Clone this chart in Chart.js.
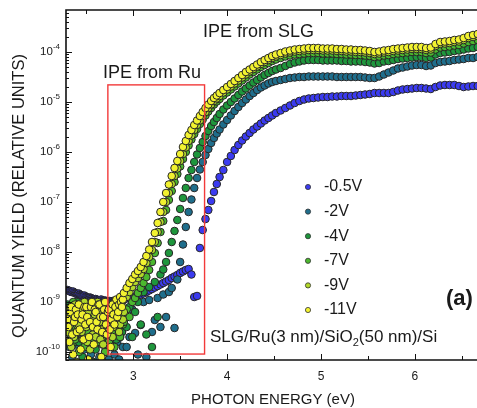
<!DOCTYPE html>
<html>
<head>
<meta charset="utf-8">
<script src="https://cdn.jsdelivr.net/npm/chart.js@4.4.0/dist/chart.umd.min.js"></script>
<style>
    html, body { margin: 0; padding: 0; background: #fff; overflow: hidden; }
    #wrap { width: 477px; height: 408px; overflow: hidden; }
    canvas { display: block; }
</style>
</head>
<body>
<div id="wrap"><canvas id="qyChart" width="485" height="408"></canvas></div>
<script>
// photon energy grid (eV), shared by every bias
const energy = [
    2.30, 2.31, 2.32, 2.33, 2.34, 2.35, 2.36, 2.37, 2.38, 2.39,
    2.40, 2.41, 2.42, 2.43, 2.44, 2.45, 2.46, 2.47, 2.48, 2.49,
    2.50, 2.51, 2.52, 2.53, 2.54, 2.55, 2.56, 2.57, 2.58, 2.59,
    2.60, 2.61, 2.62, 2.63, 2.64, 2.65, 2.66, 2.67, 2.68, 2.69,
    2.70, 2.71, 2.72, 2.73, 2.74, 2.75, 2.76, 2.77, 2.78, 2.79,
    2.80, 2.81, 2.82, 2.83, 2.84, 2.85, 2.86, 2.87, 2.88, 2.89,
    2.90,
    2.93, 2.96, 2.99, 3.02, 3.05, 3.08, 3.11, 3.14, 3.17, 3.20,
    3.23, 3.26, 3.29, 3.32, 3.35, 3.38, 3.41, 3.44, 3.47, 3.50,
    3.53, 3.56, 3.59, 3.62, 3.65, 3.68, 3.71, 3.74, 3.77, 3.80,
    3.83, 3.86, 3.89, 3.92,
    3.96, 4.00, 4.04, 4.08, 4.12, 4.16, 4.20, 4.24, 4.28, 4.32,
    4.36, 4.40, 4.44, 4.48, 4.52,
    4.57, 4.62, 4.67, 4.72, 4.77, 4.82, 4.87, 4.92, 4.97, 5.02,
    5.07, 5.12, 5.17, 5.22, 5.27, 5.32, 5.37, 5.42, 5.47, 5.52,
    5.57, 5.62, 5.67, 5.72, 5.77, 5.82, 5.87, 5.92, 5.97, 6.02,
    6.07, 6.12, 6.17, 6.22, 6.27, 6.32, 6.37, 6.42, 6.47, 6.52,
    6.57, 6.62, 6.67
];

// log10 of the quantum yield, one list per bias
const logQY_m05V = [
    -8.76, -8.77, -8.78, -8.79, -8.80, -8.80, -8.79, -8.81, -8.82, -8.83,
    -8.84, -8.84, -8.83, -8.85, -8.86, -8.87, -8.88, -8.88, -8.87, -8.89,
    -8.90, -8.91, -8.92, -8.92, -8.91, -8.92, -8.93, -8.94, -8.95, -8.95,
    -8.94, -8.95, -8.96, -8.97, -8.97, -8.96, -8.95, -8.97, -8.98, -8.98,
    -8.97, -8.98, -8.99, -9.00, -8.99, -8.98, -9.00, -8.99, -8.98, -8.99,
    -8.99, -8.98, -8.97, -8.97, -8.98, -8.97, -8.96, -8.96, -8.97, -8.96,
    -8.95,
    -8.93, -8.92, -8.90, -8.89, -8.87, -8.85, -8.83, -8.80, -8.77, -8.74,
    -8.71, -8.68, -8.65, -8.62, -8.59, -8.56, -8.52, -8.49, -8.46, -8.42,
    -8.39, -8.36, -8.34, -8.45, -8.90, -8.88, -7.92, -7.56, -7.34, -7.16,
    -6.98, -6.80, -6.64, -6.50,
    -6.36, -6.20, -6.08, -5.96, -5.86, -5.77, -5.69, -5.62, -5.55, -5.49,
    -5.43, -5.37, -5.32, -5.27, -5.22,
    -5.17, -5.12, -5.07, -5.02, -4.98, -4.95, -4.93, -4.92, -4.91, -4.90,
    -4.90, -4.89, -4.89, -4.88, -4.88, -4.88, -4.87, -4.86, -4.85, -4.84,
    -4.82, -4.82, -4.82, -4.82, -4.80, -4.77, -4.75, -4.74, -4.73, -4.72,
    -4.72, -4.73, -4.74, -4.70, -4.67, -4.66, -4.66, -4.66, -4.68, -4.70,
    -4.69, -4.68, -4.68
];
const logQY_m2V = [
    -9.20, -9.55, -9.90, -9.40, -9.35, -10.10, -9.75, -9.60, -9.30, -9.85,
    -10.25, -9.50, -9.70, -9.45, -10.00, -9.65, -9.55, -9.30, -9.95, -9.40,
    -9.30, -10.15, -9.80, -9.65, -9.40, -10.05, -9.60, -9.50, -9.25, -9.90,
    -10.20, -9.55, -9.45, -9.70, -10.10, -9.60, -9.35, -9.85, -9.70, -9.45,
    -10.00, -9.55, -9.75, -9.30, -10.15, -9.65, -9.50, -9.90, -9.40, -9.75,
    -10.05, -9.55, -9.35, -9.80, -9.50, -10.15, -9.70, -9.40, -9.60, -9.90,
    -9.40,
    -9.90, -9.70, -9.15, -9.62, -10.05, -9.46, -9.00, -10.10, -8.96, -9.60,
    -9.36, -8.92, -9.50, -8.85, -9.30, -8.80, -8.72, -9.52, -8.55, -8.20,
    -7.85, -7.50, -7.20, -6.95, -6.72, -6.52, -6.35, -6.20, -6.06, -5.94,
    -5.82, -5.72, -5.63, -5.55,
    -5.45, -5.36, -5.27, -5.18, -5.10, -5.02, -4.95, -4.88, -4.82, -4.76,
    -4.71, -4.67, -4.63, -4.60, -4.58,
    -4.56, -4.54, -4.52, -4.51, -4.50, -4.50, -4.49, -4.49, -4.49, -4.49,
    -4.49, -4.49, -4.50, -4.50, -4.50, -4.50, -4.50, -4.50, -4.51, -4.52,
    -4.52, -4.49, -4.45, -4.41, -4.37, -4.33, -4.31, -4.29, -4.27, -4.26,
    -4.26, -4.28, -4.27, -4.22, -4.20, -4.19, -4.18, -4.16, -4.15, -4.14,
    -4.12, -4.12, -4.10
];
const logQY_m4V = [
    -9.05, -9.25, -9.40, -9.60, -9.70, -9.30, -9.15, -9.45, -9.50, -9.80,
    -9.00, -9.20, -9.80, -9.55, -9.25, -9.35, -10.10, -9.65, -9.35, -9.10,
    -9.15, -9.50, -9.75, -9.20, -9.25, -9.05, -9.50, -9.85, -9.00, -9.30,
    -9.95, -9.45, -9.30, -9.60, -9.75, -9.15, -9.05, -9.35, -9.40, -9.70,
    -9.60, -9.25, -9.90, -9.55, -9.30, -9.10, -9.05, -9.45, -9.55, -9.20,
    -9.20, -9.65, -9.75, -9.35, -9.45, -9.05, -9.15, -9.50, -9.60, -9.25,
    -9.30,
    -9.50, -9.10, -9.70, -9.20, -9.00, -9.45, -8.80, -9.65, -8.70, -9.90,
    -8.60, -9.30, -8.45, -8.35, -8.20, -8.02, -7.80, -7.58, -7.36, -7.14,
    -6.92, -6.72, -6.52, -6.36, -6.20, -6.05, -5.92, -5.80, -5.68, -5.58,
    -5.48, -5.40, -5.32, -5.24,
    -5.15, -5.07, -5.00, -4.93, -4.86, -4.79, -4.73, -4.67, -4.61, -4.56,
    -4.51, -4.46, -4.42, -4.38, -4.35,
    -4.32, -4.28, -4.24, -4.21, -4.19, -4.17, -4.16, -4.16, -4.16, -4.17,
    -4.17, -4.17, -4.17, -4.18, -4.18, -4.19, -4.19, -4.19, -4.20, -4.21,
    -4.23, -4.22, -4.19, -4.18, -4.16, -4.14, -4.13, -4.12, -4.11, -4.10,
    -4.10, -4.12, -4.11, -4.05, -4.02, -4.01, -4.00, -3.98, -3.97, -3.95,
    -3.93, -3.92, -3.90
];
const logQY_m7V = [
    -9.20, -9.40, -9.55, -9.10, -9.35, -9.85, -9.00, -9.25, -9.75, -9.50,
    -9.25, -9.05, -10.00, -9.60, -9.40, -9.20, -9.10, -9.65, -9.90, -9.30,
    -9.35, -9.15, -9.60, -9.45, -9.10, -9.75, -10.20, -9.40, -9.30, -9.05,
    -9.05, -9.55, -9.80, -9.25, -9.60, -9.40, -9.15, -9.70, -9.50, -9.20,
    -10.00, -9.45, -9.25, -9.55, -9.80, -9.15, -9.35, -9.60, -9.15, -9.40,
    -9.90, -9.25, -9.50, -9.05, -9.30, -9.65, -9.70, -9.20, -9.25, -9.45,
    -9.40,
    -9.15, -9.30, -9.00, -8.92, -8.82, -8.72, -8.62, -8.50, -8.36, -8.20,
    -8.02, -7.82, -7.60, -7.38, -7.16, -6.96, -6.78, -6.60, -6.44, -6.29,
    -6.14, -6.00, -5.87, -5.75, -5.64, -5.54, -5.44, -5.35, -5.27, -5.19,
    -5.12, -5.05, -4.99, -4.94,
    -4.87, -4.81, -4.75, -4.69, -4.63, -4.57, -4.51, -4.45, -4.40, -4.35,
    -4.30, -4.26, -4.22, -4.18, -4.15,
    -4.12, -4.09, -4.07, -4.05, -4.04, -4.03, -4.02, -4.02, -4.02, -4.03,
    -4.03, -4.03, -4.04, -4.04, -4.05, -4.05, -4.06, -4.06, -4.07, -4.08,
    -4.10, -4.09, -4.07, -4.06, -4.04, -4.03, -4.02, -4.01, -4.00, -4.00,
    -4.00, -4.02, -4.01, -3.95, -3.91, -3.90, -3.89, -3.87, -3.86, -3.83,
    -3.80, -3.78, -3.76
];
const logQY_m9V = [
    -9.60, -9.30, -9.15, -9.45, -9.90, -9.20, -9.30, -9.70, -9.05, -9.35,
    -10.20, -9.55, -9.45, -9.10, -9.15, -9.60, -9.75, -9.25, -9.00, -9.40,
    -9.50, -9.80, -9.20, -9.10, -9.95, -9.45, -9.35, -9.65, -9.10, -9.25,
    -9.70, -9.05, -9.00, -9.45, -9.40, -9.75, -9.20, -9.55, -9.85, -9.15,
    -9.30, -9.60, -9.05, -9.25, -9.55, -9.35, -9.20, -9.10, -9.70, -9.50,
    -9.10, -9.40, -9.30, -9.15, -9.05, -9.60, -9.45, -9.10, -9.00, -9.35,
    -9.20,
    -8.90, -8.80, -8.70, -8.60, -8.52, -8.44, -8.34, -8.22, -8.10, -7.96,
    -7.80, -7.60, -7.40, -7.20, -7.00, -6.82, -6.64, -6.48, -6.33, -6.18,
    -6.04, -5.91, -5.78, -5.67, -5.56, -5.46, -5.37, -5.28, -5.20, -5.12,
    -5.05, -4.98, -4.93, -4.88,
    -4.81, -4.75, -4.69, -4.63, -4.57, -4.51, -4.45, -4.39, -4.34, -4.29,
    -4.24, -4.20, -4.16, -4.12, -4.09,
    -4.06, -4.03, -4.01, -3.99, -3.98, -3.97, -3.96, -3.96, -3.96, -3.97,
    -3.97, -3.97, -3.98, -3.98, -3.99, -3.99, -4.00, -4.00, -4.01, -4.02,
    -4.04, -4.03, -4.01, -4.00, -3.98, -3.97, -3.96, -3.95, -3.94, -3.94,
    -3.94, -3.96, -3.95, -3.88, -3.84, -3.83, -3.82, -3.80, -3.79, -3.76,
    -3.72, -3.70, -3.68
];
const logQY_m11V = [
    -9.35, -9.50, -9.80, -9.20, -9.10, -9.65, -10.05, -9.40, -9.30, -9.15,
    -9.60, -9.25, -9.05, -9.55, -9.95, -9.35, -9.25, -9.75, -9.10, -9.45,
    -9.10, -9.30, -10.15, -9.70, -9.40, -9.10, -9.00, -9.50, -9.85, -9.15,
    -9.20, -9.40, -9.55, -9.05, -9.05, -9.30, -10.10, -9.60, -9.30, -9.15,
    -9.00, -9.45, -9.65, -9.20, -9.15, -9.55, -9.90, -9.35, -9.05, -9.25,
    -9.45, -9.10, -8.95, -9.30, -9.20, -9.05, -8.90, -9.00, -9.10, -8.95,
    -8.82,
    -8.72, -8.62, -8.54, -8.45, -8.38, -8.30, -8.20, -8.08, -7.95, -7.80,
    -7.62, -7.42, -7.20, -7.00, -6.82, -6.65, -6.48, -6.32, -6.18, -6.04,
    -5.90, -5.78, -5.66, -5.56, -5.46, -5.37, -5.28, -5.20, -5.12, -5.05,
    -4.98, -4.92, -4.87, -4.82,
    -4.76, -4.70, -4.64, -4.58, -4.52, -4.46, -4.40, -4.35, -4.30, -4.25,
    -4.20, -4.16, -4.12, -4.08, -4.05,
    -4.02, -3.99, -3.97, -3.95, -3.94, -3.93, -3.92, -3.92, -3.92, -3.93,
    -3.93, -3.93, -3.94, -3.94, -3.95, -3.95, -3.96, -3.96, -3.97, -3.98,
    -4.00, -3.99, -3.97, -3.96, -3.94, -3.93, -3.92, -3.91, -3.90, -3.90,
    -3.90, -3.92, -3.91, -3.84, -3.80, -3.79, -3.78, -3.76, -3.75, -3.72,
    -3.68, -3.66, -3.64
];

const seriesLabels = ['-0.5V', '-2V', '-4V', '-7V', '-9V', '-11V'];
const seriesLogQY = [logQY_m05V, logQY_m2V, logQY_m4V, logQY_m7V, logQY_m9V, logQY_m11V];
const seriesColors = ['#3b3bf0', '#1f6e8c', '#1e963c', '#4cb82e', '#b2d82a', '#f2f230'];

// axes
const xRange = [2.284, 6.694];
const xTicks = [3, 4, 5, 6];
const xMinorTicks = [2.5, 3.5, 4.5, 5.5, 6.5];
const yRangeExp = [-10.16, -3.16];
const yTickExps = [-10, -9, -8, -7, -6, -5, -4];

// red "IPE from Ru" window
const ruBoxE = [2.73, 3.76];
const ruBoxQY = [9.1e-11, 2.2e-5];

const FONT = '"Liberation Sans", Arial, sans-serif';

function setFont(ctx, size, bold) {
    ctx.font = (bold ? 'bold ' : '') + size + 'px ' + FONT;
}

const decorPlugin = {
    id: 'decor',
    afterDatasetsDraw(chart) {
        const { ctx, chartArea: a, scales: { x, y } } = chart;
        ctx.save();

        // red box
        const bx0 = x.getPixelForValue(ruBoxE[0]);
        const bx1 = x.getPixelForValue(ruBoxE[1]);
        const by0 = y.getPixelForValue(ruBoxQY[1]);
        const by1 = y.getPixelForValue(ruBoxQY[0]);
        ctx.strokeStyle = '#f23a3a';
        ctx.lineWidth = 1.4;
        ctx.strokeRect(bx0, by0, bx1 - bx0, by1 - by0);

        // frame (left, top, bottom)
        ctx.strokeStyle = '#111';
        ctx.lineWidth = 1.6;
        ctx.beginPath();
        ctx.moveTo(a.right + 2, a.top);
        ctx.lineTo(a.left, a.top);
        ctx.lineTo(a.left, a.bottom);
        ctx.lineTo(a.right + 2, a.bottom);
        ctx.stroke();

        // inward ticks
        ctx.lineWidth = 1;
        ctx.beginPath();
        xTicks.forEach(v => {
            const px = Math.round(x.getPixelForValue(v)) + 0.5;
            ctx.moveTo(px, a.bottom); ctx.lineTo(px, a.bottom - 6);
            ctx.moveTo(px, a.top); ctx.lineTo(px, a.top + 6);
        });
        xMinorTicks.forEach(v => {
            const px = Math.round(x.getPixelForValue(v)) + 0.5;
            ctx.moveTo(px, a.bottom); ctx.lineTo(px, a.bottom - 4);
            ctx.moveTo(px, a.top); ctx.lineTo(px, a.top + 4);
        });
        for (let d = -11; d <= -3; d++) {
            for (let m = 1; m <= 9; m++) {
                const v = m * Math.pow(10, d);
                if (v < y.min || v > y.max) continue;
                const py = Math.round(y.getPixelForValue(v)) + 0.5;
                ctx.moveTo(a.left, py);
                ctx.lineTo(a.left + (m === 1 ? 6 : 3), py);
            }
        }
        ctx.stroke();

        ctx.restore();
    },
    afterDraw(chart) {
        const { ctx, chartArea: a, scales: { y } } = chart;
        ctx.save();
        ctx.fillStyle = '#1a1a1a';

        // y tick labels 10^n
        y.ticks.forEach(t => {
            const py = y.getPixelForValue(t.value);
            const ex = String(Math.round(Math.log10(t.value)));
            ctx.textAlign = 'right';
            ctx.textBaseline = 'middle';
            setFont(ctx, 8);
            const ew = ctx.measureText(ex).width;
            ctx.fillText(ex, 60, py - 5);
            setFont(ctx, 11.5);
            ctx.fillText('10', 60 - ew, py);
        });

        // axis titles
        ctx.textAlign = 'center';
        ctx.textBaseline = 'middle';
        setFont(ctx, 15);
        ctx.fillText('PHOTON ENERGY (eV)', (a.left + a.right) / 2, 400);
        ctx.save();
        ctx.translate(19.5, 196);
        ctx.rotate(-Math.PI / 2);
        setFont(ctx, 16.5);
        ctx.fillText('QUANTUM YIELD (RELATIVE UNITS)', 0, 0);
        ctx.restore();

        // annotations
        ctx.textAlign = 'left';
        setFont(ctx, 18);
        ctx.fillText('IPE from SLG', 203, 32);
        ctx.fillText('IPE from Ru', 103, 73);

        setFont(ctx, 22, true);
        ctx.fillText('(a)', 446, 299);

        // sample stack with subscript
        let sx = 210;
        const sy = 337;
        setFont(ctx, 17);
        const partA = 'SLG/Ru(3 nm)/SiO';
        ctx.fillText(partA, sx, sy);
        sx += ctx.measureText(partA).width;
        setFont(ctx, 11);
        ctx.fillText('2', sx, sy + 6);
        sx += ctx.measureText('2').width;
        setFont(ctx, 17);
        ctx.fillText('(50 nm)/Si', sx, sy);

        // legend
        chart.data.datasets.forEach((ds, i) => {
            const ly = 187 + i * 24.6;
            ctx.beginPath();
            ctx.arc(308, ly, 2.6, 0, Math.PI * 2);
            ctx.fillStyle = ds.backgroundColor;
            ctx.fill();
            ctx.lineWidth = 0.8;
            ctx.strokeStyle = '#333';
            ctx.stroke();
            ctx.fillStyle = '#1a1a1a';
            setFont(ctx, 16);
            ctx.textAlign = 'left';
            ctx.fillText(ds.label, 324, ly);
        });

        ctx.restore();
    }
};

const datasets = seriesLabels.map((label, i) => ({
    label: label,
    data: energy.map((e, k) => ({ x: e, y: Math.pow(10, seriesLogQY[i][k]) })),
    backgroundColor: seriesColors[i],
    borderColor: '#262626',
    pointRadius: 3.8,
    pointBorderWidth: 1,
    order: seriesLabels.length - i,
    clip: 0
}));

new Chart(document.getElementById('qyChart'), {
    type: 'scatter',
    data: { datasets },
    options: {
        responsive: false,
        animation: false,
        events: [],
        layout: { padding: { top: 10, left: 0, right: 0, bottom: 0 } },
        plugins: { legend: { display: false }, tooltip: { enabled: false } },
        scales: {
            x: {
                type: 'linear',
                min: xRange[0],
                max: xRange[1],
                afterBuildTicks: s => { s.ticks = xTicks.map(v => ({ value: v })); },
                afterFit: s => { s.height = 48; },
                grid: { display: false, drawTicks: false },
                border: { display: false },
                ticks: {
                    padding: 9,
                    maxRotation: 0,
                    color: '#1a1a1a',
                    font: { size: 12, family: FONT },
                    callback: v => String(v)
                }
            },
            y: {
                type: 'logarithmic',
                min: Math.pow(10, yRangeExp[0]),
                max: Math.pow(10, yRangeExp[1]),
                afterBuildTicks: s => { s.ticks = yTickExps.map(e => ({ value: Math.pow(10, e) })); },
                afterFit: s => { s.width = 66; },
                grid: { display: false, drawTicks: false },
                border: { display: false },
                ticks: { display: false }
            }
        }
    },
    plugins: [decorPlugin]
});
</script>
</body>
</html>
